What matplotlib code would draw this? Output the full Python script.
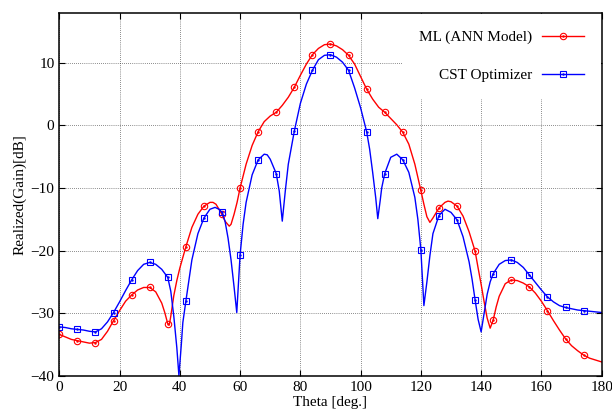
import numpy as np
import matplotlib
matplotlib.use('Agg')
import matplotlib.pyplot as plt


# realized gain vs theta
theta_ml = [0, 2, 4, 6, 8, 10, 12, 14, 16, 18, 20, 22, 24, 26, 28, 30, 32, 34, 35, 36,
            36.5, 37, 38, 39, 40, 42, 44, 46, 48, 50, 51, 52, 54, 55, 56.4, 57, 58, 59,
            60, 62, 64, 66, 68, 70, 72, 74, 76, 78, 80, 82, 84, 86, 88, 90, 92, 94, 96,
            98, 100, 102, 104, 106, 108, 110, 112, 114, 116, 118, 120, 121, 122, 123,
            124, 126, 128, 129, 130, 132, 134, 136, 138, 139, 140, 141, 142, 143, 144,
            145, 146, 148, 150, 152, 154, 156, 158, 160, 162, 164, 166, 168, 170, 172,
            174, 176, 178, 180]
gain_ml = [-33.4, -33.8, -34.2, -34.4, -34.6, -34.8, -34.7, -34.2, -32.9, -31.2, -29.6,
           -28.1, -27.1, -26.3, -25.9, -25.9, -26.6, -28.4, -29.9, -31.7,
           -31.9, -30.5, -27.2, -24.8, -22.8, -19.4, -16.3, -14.2, -12.9, -12.3, -12.3,
           -12.6, -14.2, -15.3, -16.1, -15.8, -14.2, -12.3,
           -10.0, -6.2, -3.2, -1.0, 0.6, 1.5, 2.1, 3.2, 4.5, 6.1, 8.0, 9.8, 11.3, 12.3,
           12.9, 13.0, 12.7, 12.1, 11.2,
           9.8, 7.8, 5.8, 4.2, 2.9, 2.1, 1.1, 0.1, -1.1, -3.0, -6.2, -10.4, -12.6, -14.6,
           -15.5,
           -14.8, -13.2, -12.3, -12.1, -12.2, -12.9, -14.5, -17.0, -20.1, -22.8, -25.4,
           -28.2, -30.8, -32.4, -31.1,
           -29.0, -27.3, -25.3, -24.7, -24.8, -25.2, -25.8, -26.8, -28.1, -29.6, -31.2,
           -32.7, -34.1, -35.2, -36.0,
           -36.7, -37.2, -37.5, -37.8]

theta_cst = [0, 2, 4, 6, 8, 10, 12, 14, 16, 18, 20, 22, 24, 26, 28, 30, 32, 34, 36, 37,
             38, 39, 39.7, 40.5, 41, 42, 44, 46, 48, 50, 51.7, 53, 54, 55, 56, 57, 58,
             58.9, 60, 61, 62, 64, 66, 68, 69, 70, 72, 73, 74, 75, 76, 78, 80, 82, 84,
             86, 88, 90, 92, 94, 96, 98, 100, 102, 103, 104, 105, 105.7, 106.5, 107,
             108, 110, 112, 114, 116, 118, 119, 120, 121, 122, 123, 124, 126, 128, 130,
             132, 134, 136, 137, 138, 139, 140, 141, 142, 143, 144, 146, 148, 150, 152,
             154, 156, 158, 160, 162, 164, 166, 168, 170, 172, 174, 176, 178, 180]
gain_cst = [-32.2, -32.3, -32.5, -32.6, -32.7, -32.9, -33.0, -32.5, -31.4, -29.9, -28.2,
            -26.4, -24.7, -23.2, -22.2, -21.9, -22.2, -23.0, -24.3, -26.5,
            -30.5, -35.5, -40.0, -35.0, -31.5, -28.1, -21.5, -17.3, -14.8, -13.4, -13.1,
            -13.4, -13.9, -15.3, -18.0, -21.5, -25.8,
            -29.9, -20.7, -15.8, -12.3, -7.9, -5.5, -4.6, -4.7, -5.4, -7.7, -10.5, -15.3,
            -10.5, -6.2, -0.9, 3.5, 6.6, 8.8,
            10.5, 11.2, 11.3, 10.9, 10.1, 8.8, 6.0, 2.8, -1.0, -3.8, -7.5, -11.5, -14.9,
            -12.0, -10.0,
            -7.7, -5.1, -4.6, -5.5, -7.5, -11.5, -15.0, -19.9, -28.8, -25.0, -20.8,
            -17.3, -14.4, -13.4, -13.9,
            -15.1, -17.8, -21.8, -24.6, -27.9, -31.0, -33.0, -30.0, -27.0, -25.0, -23.7,
            -22.2, -21.6, -21.5, -21.9,
            -22.7, -23.9, -25.1, -26.3, -27.4, -28.2, -28.8, -29.1, -29.3, -29.5, -29.6,
            -29.7, -29.8, -29.9]

x_ticks = [0, 20, 40, 60, 80, 100, 120, 140, 160, 180]
y_ticks = [-40, -30, -20, -10, 0, 10]


plt.rcParams['font.family'] = ['Liberation Serif', 'DejaVu Serif']
plt.rcParams['font.size'] = 11

fig = plt.figure(figsize=(6.12, 4.13), dpi=100)
ax = fig.add_axes([0.0969, 0.0903, 0.8862, 0.8788])

# markers every 6 degrees, up to 174
mk_ml = [i for i, t in enumerate(theta_ml) if t % 6 == 0 and t < 180]
mk_cst = [i for i, t in enumerate(theta_cst) if t % 6 == 0 and t < 180]

l1, = ax.plot(theta_ml, gain_ml, color='red', lw=1.0, marker='o', ms=4.6,
              mfc='none', mec='red', mew=0.8, markevery=mk_ml)
d1, = ax.plot(np.array(theta_ml)[mk_ml], np.array(gain_ml)[mk_ml], ls='none',
              marker='.', ms=1.5, color='red')
l2, = ax.plot(theta_cst, gain_cst, color='blue', lw=1.0, marker='s', ms=4.4,
              mfc='none', mec='blue', mew=0.8, markevery=mk_cst)
d2, = ax.plot(np.array(theta_cst)[mk_cst], np.array(gain_cst)[mk_cst], ls='none',
              marker='.', ms=1.5, color='blue')

ax.set_xlim(0, 180)
ax.set_ylim(-40, 18)
ax.set_xticks(x_ticks)
ax.set_yticks(y_ticks)
ax.tick_params(direction='in', top=True, right=True, length=4, width=0.8,
               labelsize=11)
ax.grid(True, color='#222222', linestyle=(0, (1, 2)), linewidth=0.5)
for s in ax.spines.values():
    s.set_linewidth(1.1)

ax.set_xlabel('Theta [deg.]', fontsize=11, labelpad=2)
ax.set_ylabel('Realized(Gain)[dB]', fontsize=11, labelpad=3)

leg = ax.legend([(l1, d1), (l2, d2)], ['ML (ANN Model)', 'CST Optimizer'],
                loc='upper right', markerfirst=False, frameon=True, fancybox=False,
                borderaxespad=0.05, borderpad=1.1, labelspacing=1.6,
                handlelength=2.75, handletextpad=0.65, fontsize=11)
leg.get_frame().set_facecolor('white')
leg.get_frame().set_edgecolor('none')
leg.get_frame().set_alpha(1.0)

fig.savefig('out.png', dpi=100)
